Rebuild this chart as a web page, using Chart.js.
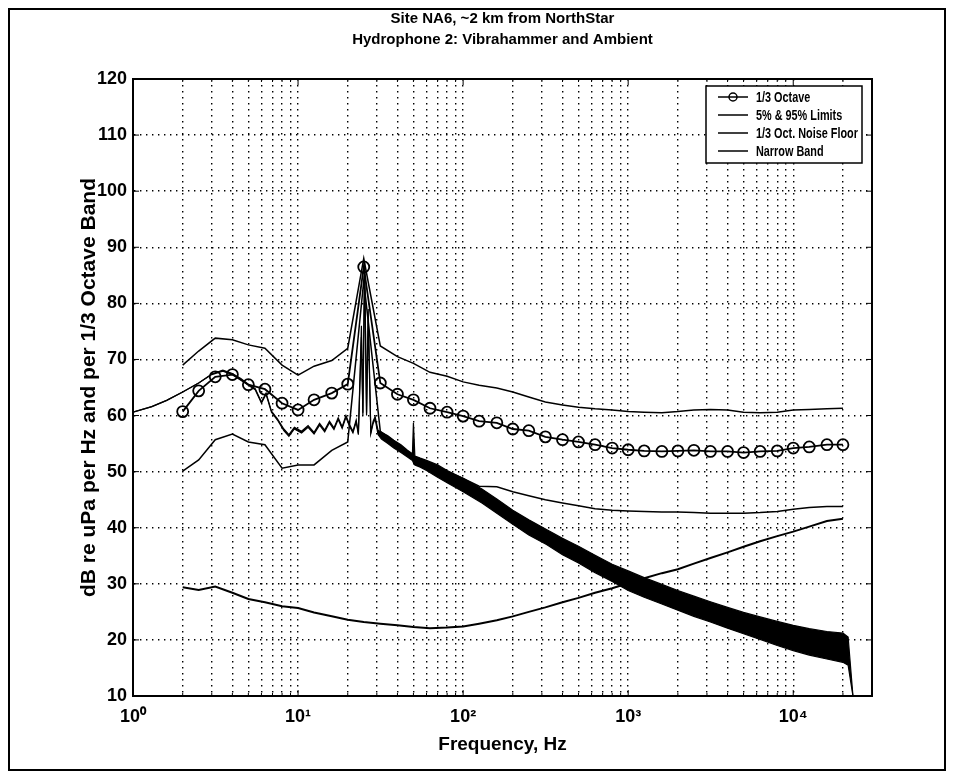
<!DOCTYPE html>
<html lang="en">
<head>
<meta charset="UTF-8">
<title>Site NA6 - Hydrophone 2</title>
<script src="https://cdn.jsdelivr.net/npm/chart.js"></script>
<style>
    html, body { margin: 0; padding: 0; background: #fff; }
    #wrap { position: relative; width: 954px; height: 779px; }
    #frame { position: absolute; left: 8px; top: 8px; width: 934px; height: 759px; border: 2px solid #000; }
    #graph { position: absolute; left: 0; top: 0; }
</style>
</head>
<body>
<div id="wrap">
    <div id="frame"></div>
    <canvas id="graph" width="954" height="779"></canvas>
</div>
<script>
// 1/3 octave band centre frequencies, Hz
const bandFreqs = [2, 2.5, 3.15, 4, 5, 6.3, 8, 10, 12.5, 16,
    20, 25, 31.5, 40, 50, 63, 80, 100, 125, 160,
    200, 250, 315, 400, 500, 630, 800, 1000, 1250, 1600,
    2000, 2500, 3150, 4000, 5000, 6300, 8000, 10000, 12500, 16000, 20000];

const thirdOctave = [60.7, 64.4, 66.9, 67.3, 65.5, 64.7, 62.2, 61.0, 62.8, 64.0,
    65.6, 86.5, 65.8, 63.8, 62.8, 61.3, 60.6, 59.9, 59.0, 58.7,
    57.6, 57.3, 56.2, 55.7, 55.3, 54.8, 54.2, 53.9, 53.7, 53.6,
    53.7, 53.8, 53.6, 53.6, 53.4, 53.6, 53.7, 54.2, 54.4, 54.8, 54.8];

const limit95 = [69.0, 71.5, 73.8, 73.5, 72.6, 72.0, 69.0, 67.2, 68.8, 69.8,
    72.0, 88.0, 72.4, 70.5, 69.3, 67.7, 67.0, 66.0, 65.4, 64.9,
    64.2, 63.3, 62.4, 61.9, 61.5, 61.2, 61.0, 60.7, 60.6, 60.5,
    60.7, 61.0, 61.1, 61.0, 60.6, 60.5, 60.6, 61.0, 61.1, 61.2, 61.3];

const limit5 = [50.1, 52.1, 55.7, 56.7, 55.3, 54.8, 50.6, 51.2, 51.2, 53.8,
    55.3, 84.0, 57.2, 55.0, 52.8, 51.5, 50.0, 48.8, 47.4, 47.3,
    46.4, 45.7, 45.0, 44.4, 43.9, 43.4, 43.1, 43.0, 42.9, 42.8,
    42.8, 42.7, 42.6, 42.6, 42.6, 42.7, 42.9, 43.3, 43.6, 43.8, 43.8];

const noiseFloor = [29.4, 28.9, 29.5, 28.4, 27.3, 26.7, 26.0, 25.7, 24.9, 24.2,
    23.6, 23.2, 22.9, 22.6, 22.3, 22.1, 22.2, 22.4, 22.9, 23.5,
    24.2, 25.0, 25.8, 26.7, 27.5, 28.4, 29.2, 30.1, 31.0, 31.9,
    32.6, 33.6, 34.6, 35.6, 36.6, 37.6, 38.5, 39.3, 40.2, 41.2, 41.6];

// narrow band trace, read as upper / lower edge of the dense black band
const nbFreqs = [1, 1.3, 1.6, 2, 2.5, 3, 3.5, 4, 4.5, 5,
    5.5, 6, 6.4, 6.9, 7.5, 8.2, 8.8, 9.5, 10.5, 11.5,
    12.5, 13.5, 14.5, 15.5, 16.5, 17.5, 18.5, 19.5, 20.5, 21.5,
    22.5, 23.2, 24.2, 24.7, 25.3, 26.0, 26.6, 27.6, 28.5, 29.3,
    30.5, 32, 35, 38, 42, 46, 49.3, 50, 51, 55,
    60, 70, 80, 100, 130, 160, 200, 250, 320, 400,
    500, 630, 800, 1000, 1250, 1600, 2000, 2500, 3150, 4000,
    5000, 6300, 8000, 10000, 12500, 16000, 20000, 21500, 23000];

const nbUpper = [60.6, 61.6, 62.7, 64.2, 65.8, 67.4, 68.1, 67.5, 66.6, 65.6,
    64.8, 62.4, 64.0, 60.8, 59.4, 57.6, 56.6, 57.9, 57.2, 58.2,
    57.0, 58.6, 57.4, 59.0, 57.8, 59.6, 58.0, 60.0, 58.4, 57.2,
    59.2, 56.8, 76.0, 60.5, 87.5, 60.5, 79.0, 57.0, 59.0, 59.8,
    57.4, 57.0, 56.4, 55.6, 54.8, 53.8, 53.2, 58.7, 52.8, 52.4,
    52.0, 51.2, 50.2, 48.8, 46.9, 45.1, 43.1, 41.4, 39.7, 38.1,
    36.7, 35.1, 33.5, 32.3, 31.1, 29.9, 28.8, 27.8, 26.8, 25.8,
    24.9, 24.1, 23.3, 22.6, 22.0, 21.5, 21.2, 20.5, 10];

const nbLower = [60.6, 61.6, 62.7, 64.2, 65.8, 67.3, 67.9, 67.3, 66.4, 65.4,
    64.6, 62.2, 63.8, 60.6, 59.2, 57.3, 56.3, 57.6, 56.9, 57.9,
    56.7, 58.3, 57.1, 58.7, 57.5, 59.3, 57.7, 59.7, 58.1, 56.9,
    58.9, 56.6, 74.0, 60.0, 86.5, 60.0, 77.0, 56.8, 58.6, 59.4,
    56.6, 55.8, 55.0, 54.2, 53.4, 52.6, 52.0, 51.6, 51.2, 50.8,
    50.2, 49.0, 48.0, 46.4, 44.4, 42.6, 40.6, 38.7, 37.0, 35.2,
    33.7, 32.0, 30.4, 28.8, 27.6, 26.4, 25.3, 24.2, 23.2, 22.1,
    21.1, 20.1, 19.0, 18.1, 17.3, 16.6, 16.0, 15.5, 10];

// axis ticks
const xMajor = [1, 10, 100, 1000, 10000];
const xTickLabels = ['10\u2070', '10\u00b9', '10\u00b2', '10\u00b3', '10\u2074'];
const xMin = 1, xMax = 30000;
const yMin = 10, yMax = 120, yStep = 10;

// grid lines at 1..9 x each decade
const xGrid = [];
xMajor.forEach(d => {
    for (let m = 1; m <= 9; m++) {
        if (d * m <= xMax) xGrid.push(d * m);
    }
});

const legendOrder = [0, 1, 3, 4];

const pts = (xs, ys) => xs.map((f, i) => ({ x: f, y: ys[i] }));

const FONT = '"Liberation Sans", Arial, Helvetica, sans-serif';
Chart.defaults.font.family = FONT;
Chart.defaults.color = '#000';

// legend drawn as a boxed block in the top right of the plot
const legendBox = {
    id: 'legendBox',
    afterDatasetsDraw(chart) {
        const { ctx, chartArea } = chart;
        const w = 156, h = 77, rowH = 18;
        const x0 = chartArea.right - w - 10, y0 = chartArea.top + 7;
        ctx.save();
        ctx.fillStyle = '#fff';
        ctx.fillRect(x0, y0, w, h);
        ctx.strokeStyle = '#000';
        ctx.lineWidth = 1.5;
        ctx.strokeRect(x0, y0, w, h);
        ctx.font = 'bold 15.5px ' + FONT;
        ctx.textBaseline = 'middle';
        legendOrder.forEach((idx, i) => {
            const ds = chart.data.datasets[idx];
            const y = y0 + 11 + i * rowH;
            ctx.lineWidth = 1.5;
            ctx.beginPath();
            ctx.moveTo(x0 + 12, y);
            ctx.lineTo(x0 + 42, y);
            ctx.stroke();
            if (ds.pointRadius > 0) {
                ctx.beginPath();
                ctx.arc(x0 + 27, y, 4, 0, 2 * Math.PI);
                ctx.stroke();
            }
            // narrow face like the original print
            ctx.save();
            ctx.translate(x0 + 50, y + 1);
            ctx.scale(0.7, 1);
            ctx.fillStyle = '#000';
            ctx.fillText(ds.label, 0, 0);
            ctx.restore();
        });
        ctx.restore();
    }
};

// box around the axes with inward tick marks on all sides
const axesBox = {
    id: 'axesBox',
    afterDraw(chart) {
        const { ctx, chartArea: a, scales: { x, y } } = chart;
        ctx.save();
        ctx.strokeStyle = '#000';
        ctx.lineWidth = 1;
        ctx.beginPath();
        x.ticks.forEach(t => {
            const px = x.getPixelForValue(t.value);
            const len = xMajor.includes(t.value) ? 6 : 3;
            ctx.moveTo(px, a.bottom);
            ctx.lineTo(px, a.bottom - len);
            ctx.moveTo(px, a.top);
            ctx.lineTo(px, a.top + len);
        });
        y.ticks.forEach(t => {
            const py = y.getPixelForValue(t.value);
            ctx.moveTo(a.left, py);
            ctx.lineTo(a.left + 6, py);
            ctx.moveTo(a.right, py);
            ctx.lineTo(a.right - 6, py);
        });
        ctx.stroke();
        ctx.lineWidth = 2;
        ctx.strokeRect(a.left, a.top, a.right - a.left, a.bottom - a.top);
        ctx.restore();
    }
};

const line = (label, xs, ys, extra) => Object.assign({
    label: label,
    data: pts(xs, ys),
    borderColor: '#000',
    backgroundColor: '#000',
    borderWidth: 1.5,
    pointRadius: 0,
    tension: 0,
    fill: false
}, extra || {});

const ctx = document.getElementById('graph').getContext('2d');
const myChart = new Chart(ctx, {
    type: 'line',
    data: {
        datasets: [
            line('1/3 Octave', bandFreqs, thirdOctave, {
                borderWidth: 1.8,
                pointRadius: 5.5,
                pointBorderWidth: 1.8,
                pointBorderColor: '#000',
                pointBackgroundColor: 'rgba(0,0,0,0)'
            }),
            line('5% & 95% Limits', bandFreqs, limit95),
            line('5% & 95% Limits', bandFreqs, limit5),
            line('1/3 Oct. Noise Floor', bandFreqs, noiseFloor, { borderWidth: 2 }),
            line('Narrow Band', nbFreqs, nbUpper, { borderWidth: 1.2 }),
            line('Narrow Band', nbFreqs, nbLower, { borderWidth: 1.2, fill: '-1' })
        ]
    },
    options: {
        responsive: false,
        animation: false,
        devicePixelRatio: 1,
        layout: { padding: { left: 0, right: 82, top: 0, bottom: 0 } },
        plugins: {
            legend: { display: false },
            tooltip: { enabled: false },
            title: {
                display: true,
                fullSize: false,
                text: ['Site NA6, ~2 km from NorthStar', 'Hydrophone 2: Vibrahammer and Ambient'],
                font: { size: 15, weight: 'bold', lineHeight: 1.4 },
                padding: { top: 8.5, bottom: 28.5 }
            }
        },
        scales: {
            x: {
                type: 'logarithmic',
                min: xMin,
                max: xMax,
                afterBuildTicks: s => { s.ticks = xGrid.map(v => ({ value: v })); },
                afterFit: s => { s.height = 83; },
                ticks: {
                    autoSkip: false,
                    maxRotation: 0,
                    padding: 10,
                    font: { size: 18, weight: 'bold' },
                    callback: v => {
                        const i = xMajor.indexOf(v);
                        return i >= 0 ? xTickLabels[i] : '';
                    }
                },
                grid: { color: '#000', lineWidth: 1.4, drawTicks: false },
                border: { display: true, color: '#000', width: 2, dash: [1.4, 4.6] },
                title: {
                    display: true,
                    text: 'Frequency, Hz',
                    font: { size: 19, weight: 'bold' },
                    padding: { top: 0, bottom: 23 }
                }
            },
            y: {
                min: yMin,
                max: yMax,
                afterFit: s => { s.width = 133; },
                ticks: {
                    stepSize: yStep,
                    padding: 6,
                    font: { size: 18, weight: 'bold' }
                },
                grid: { color: '#000', lineWidth: 1.4, drawTicks: false },
                border: { display: true, color: '#000', width: 2, dash: [1.4, 4.6] },
                title: {
                    display: true,
                    text: 'dB re uPa per Hz and per 1/3 Octave Band',
                    font: { size: 21, weight: 'bold' },
                    padding: { top: 77, bottom: 0 }
                }
            }
        }
    },
    plugins: [legendBox, axesBox]
});
</script>
</body>
</html>
